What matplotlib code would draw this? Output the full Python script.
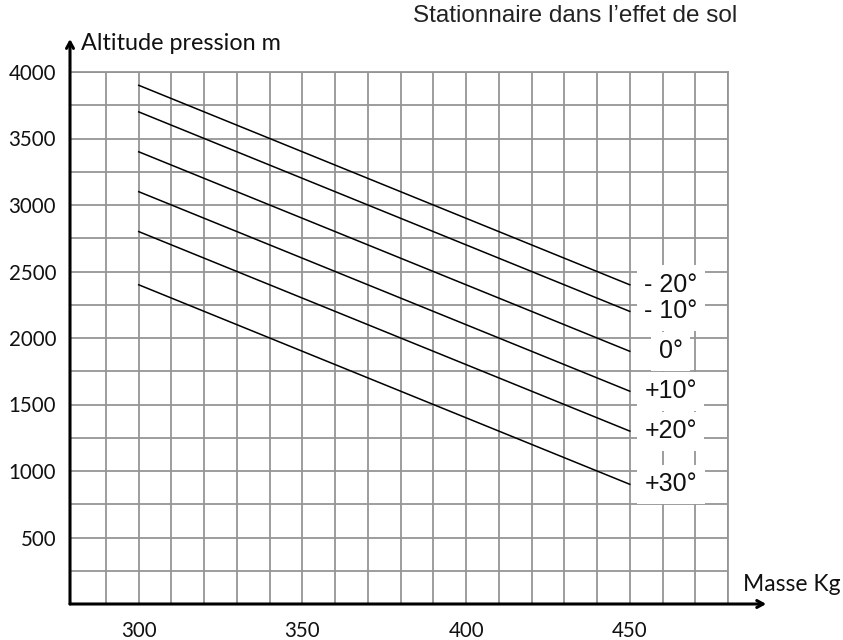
import matplotlib
matplotlib.use("Agg")
import matplotlib.pyplot as plt
import numpy as np

# Data
masse_kg = [300, 450]
temp_labels = ["- 20°", "- 10°", "0°", "+10°", "+20°", "+30°"]
alt_m20 = [3900, 2400]
alt_m10 = [3700, 2200]
alt_0 = [3400, 1900]
alt_p10 = [3100, 1600]
alt_p20 = [2800, 1300]
alt_p30 = [2400, 900]
series = [alt_m20, alt_m10, alt_0, alt_p10, alt_p20, alt_p30]

x_ticks = [300, 350, 400, 450]
y_ticks = [500, 1000, 1500, 2000, 2500, 3000, 3500, 4000]

W, H = 843, 640
fig = plt.figure(figsize=(W / 100, H / 100), dpi=100)
ax = fig.add_axes([70 / W, 36 / H, 658 / W, 532 / H])

xmin, xmax = 279, 480
ax.set_xlim(xmin, xmax)
ax.set_ylim(0, 4000)

grid_c = "#959595"
ax.set_xticks(x_ticks)
ax.set_xticks(np.arange(290, 481, 10), minor=True)
ax.set_yticks(y_ticks)
ax.set_yticks(np.arange(250, 4001, 250), minor=True)
ax.grid(True, which="both", color=grid_c, lw=1.3)
ax.set_axisbelow(True)
ax.tick_params(which="both", length=0)
ax.tick_params(axis="x", pad=12)
ax.tick_params(axis="y", pad=10)
tick_font = "Lato"
for lab in ax.get_xticklabels() + ax.get_yticklabels():
    lab.set_fontfamily(tick_font)
    lab.set_fontsize(14.8)
    lab.set_color("#111111")

for s in ["top", "right"]:
    ax.spines[s].set_color(grid_c)
    ax.spines[s].set_linewidth(1.3)
for s in ["left", "bottom"]:
    ax.spines[s].set_visible(False)

# axis arrows
arrow_kw = dict(arrowstyle="->,head_length=0.45,head_width=0.25", lw=2.2, color="black",
                shrinkA=0, shrinkB=0)
ax.annotate("", xy=(0, 1.062), xytext=(0, 0), xycoords="axes fraction",
            arrowprops=arrow_kw, annotation_clip=False)
ax.annotate("", xy=(1.058, 0), xytext=(0, 0), xycoords="axes fraction",
            arrowprops=arrow_kw, annotation_clip=False)

for ys, lab in zip(series, temp_labels):
    ax.plot(masse_kg, ys, color="black", lw=1.1)
    ax.text(462.5, ys[-1], lab, ha="center", va="center", fontsize=18,
            family="Liberation Sans", color="#111111",
            bbox=dict(boxstyle="square,pad=0.3", fc="white", ec="none"), zorder=5)

ax.text(0.016, 1.053, "Altitude pression m", transform=ax.transAxes, ha="left", va="center",
        fontsize=16.8, family=tick_font, color="#111111")
ax.text(1.023, 0.036, "Masse Kg", transform=ax.transAxes, ha="left", va="center",
        fontsize=16.5, family=tick_font, color="#111111")

fig.text(737 / W, 1 - 16 / H, "Stationnaire dans l’effet de sol", ha="right", va="center",
         fontsize=17.5, family="Liberation Sans", color="#222222")

fig.savefig("out.png", dpi=100, facecolor="white")
